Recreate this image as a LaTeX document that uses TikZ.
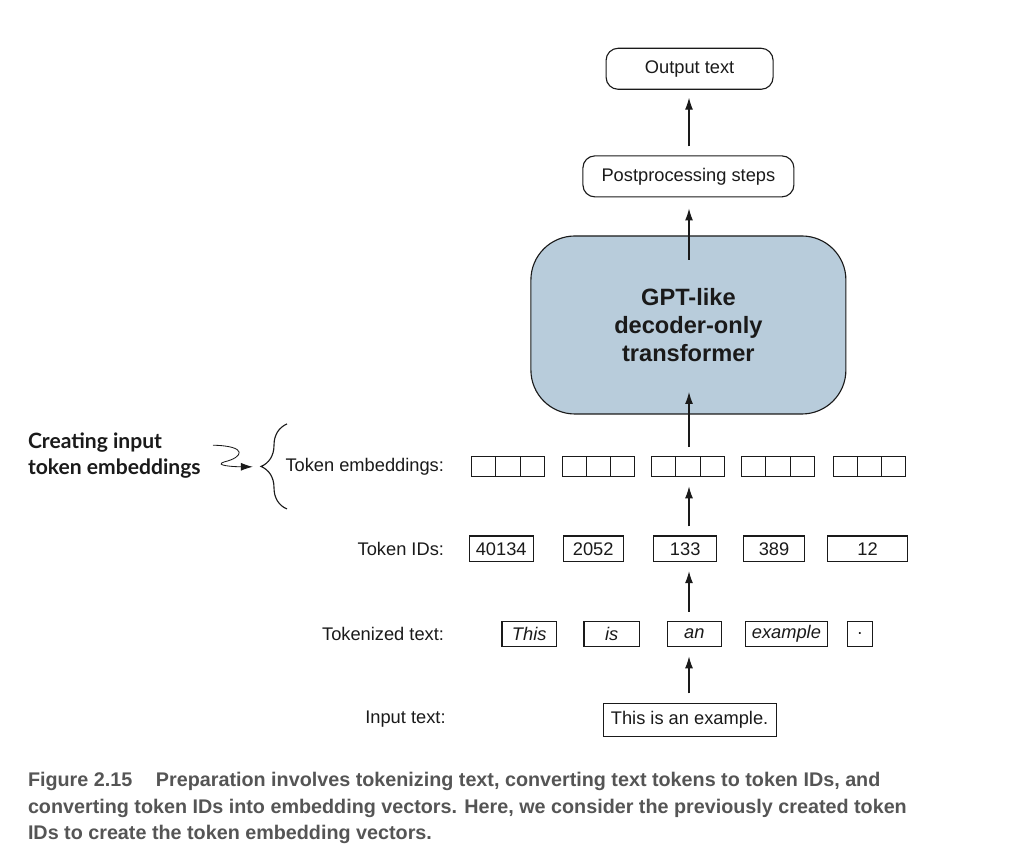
\documentclass[tikz,border=0pt]{standalone}
\usepackage{fontspec}
\setmainfont{Liberation Sans}
\newfontfamily\notefont{Lato}
\newfontfamily\capfont{Liberation Sans}
\usetikzlibrary{arrows.meta,decorations.pathreplacing}
\definecolor{gptblue}{HTML}{B8CCDB}
\definecolor{capgray}{HTML}{555555}
\definecolor{ink}{HTML}{1A1A1A}
\begin{document}
\begin{tikzpicture}[inner sep=0pt,outer sep=0pt,line width=0.8pt,color=ink,
>={Latex[length=3mm,width=2mm]},font=\fontsize{13}{15.6}\selectfont,
stepbox/.style={draw,rectangle,rounded corners=0.3cm,minimum height=1.025cm},
gptblock/.style={draw,rectangle,rounded corners=1.1cm,fill=gptblue,minimum width=7.875cm,minimum height=4.45cm,align=center,font=\fontsize{16.8}{19.9}\selectfont\bfseries},
tokbox/.style={draw,rectangle,minimum height=0.64cm},
embcell/.style={draw,rectangle,minimum width=0.605cm,minimum height=0.5cm},
rowlabel/.style={anchor=east},
flow/.style={->,shorten <=0.24cm,shorten >=0.24cm}]
\useasboundingbox (0,0) rectangle (25.6,21.45);
\draw (17.24,19.73) node[stepbox,minimum width=4.175cm] (out) {Output text};
\draw (17.21,17.04) node[stepbox,minimum width=5.275cm] (post) {Postprocessing steps};
\draw (17.21,13.325) node[gptblock] (gpt) {GPT-like\\decoder-only\\transformer};
\foreach \x [count=\i] in {12.7,14.96,17.2,19.45,21.74} {
  \draw (\x-0.605,9.78) node[embcell] {};
  \draw (\x,9.78) node[embcell] (emb\i) {};
  \draw (\x+0.605,9.78) node[embcell] {};
}
\draw (12.53,7.73) node[tokbox,minimum width=1.6cm] (id1) {40134};
\draw (14.83,7.73) node[tokbox,minimum width=1.5cm] (id2) {2052};
\draw (17.13,7.73) node[tokbox,minimum width=1.57cm] (id3) {133};
\draw (19.35,7.73) node[tokbox,minimum width=1.54cm] (id4) {389};
\draw (21.69,7.73) node[tokbox,minimum width=2cm] (id5) {12};
\draw (13.23,5.6) node[tokbox,minimum width=1.36cm] (tok1) {\itshape This};
\draw (15.29,5.6) node[tokbox,minimum width=1.38cm] (tok2) {\itshape is};
\draw (17.36,5.6) node[tokbox,minimum width=1.36cm] (tok3) {\itshape an};
\draw (19.66,5.6) node[tokbox,minimum width=2.05cm] (tok4) {\itshape example};
\draw (21.5,5.6) node[tokbox,minimum width=0.62cm] (tok5) {.};
\draw (17.24,3.46) node[tokbox,minimum width=4.325cm,minimum height=0.825cm] (inp) {This is an example.};
\draw (11.1,9.78) node[rowlabel] (lemb) {Token embeddings:};
\draw (11.1,7.73) node[rowlabel] (lid) {Token IDs:};
\draw (11.1,5.6) node[rowlabel] (ltok) {Tokenized text:};
\draw (11.14,3.46) node[rowlabel] (linp) {Input text:};
\coordinate (spine) at (17.225,0);
\draw[flow] (inp.north -| spine) -- (tok3.south -| spine);
\draw[flow] (tok3.north -| spine) -- (id3.south -| spine);
\draw[flow] (id3.north -| spine) -- (emb3.south -| spine);
\draw[flow,shorten >=-0.55cm] (emb3.north -| spine) -- (gpt.south -| spine);
\draw[flow,shorten <=-0.6cm,shorten >=0.29cm] (gpt.north -| spine) -- (post.south -| spine);
\draw[flow,shorten >=0.21cm] (post.north -| spine) -- (out.south -| spine);
\draw (0.7,10.06) node[anchor=west,align=left,font=\notefont\bfseries\fontsize{15}{18.5}\selectfont] (note) {Creating input\\token embeddings};
\coordinate (sqstart) at (5.325,10.32);
\coordinate (bracetip) at (6.52,9.78);
\draw[->,line width=0.6pt] (sqstart) .. controls (6.2,10.3) and (6.1,10.02) .. (5.6,9.9) .. controls (5.35,9.82) and (5.8,9.78) .. ([xshift=-0.2cm]bracetip);
\draw[decorate,decoration={brace,amplitude=0.65cm}] (7.175,8.725) -- (7.175,10.85);
\draw (0.7,2.14) node[anchor=north west,align=left,text=capgray,font=\capfont\bfseries\fontsize{14.05}{18.85}\selectfont] (cap) {Figure 2.15\hspace{1.2em}Preparation involves tokenizing text, converting text tokens to token IDs, and\\converting token IDs into embedding vectors. Here, we consider the previously created token\\IDs to create the token embedding vectors.};
\end{tikzpicture}
\end{document}
